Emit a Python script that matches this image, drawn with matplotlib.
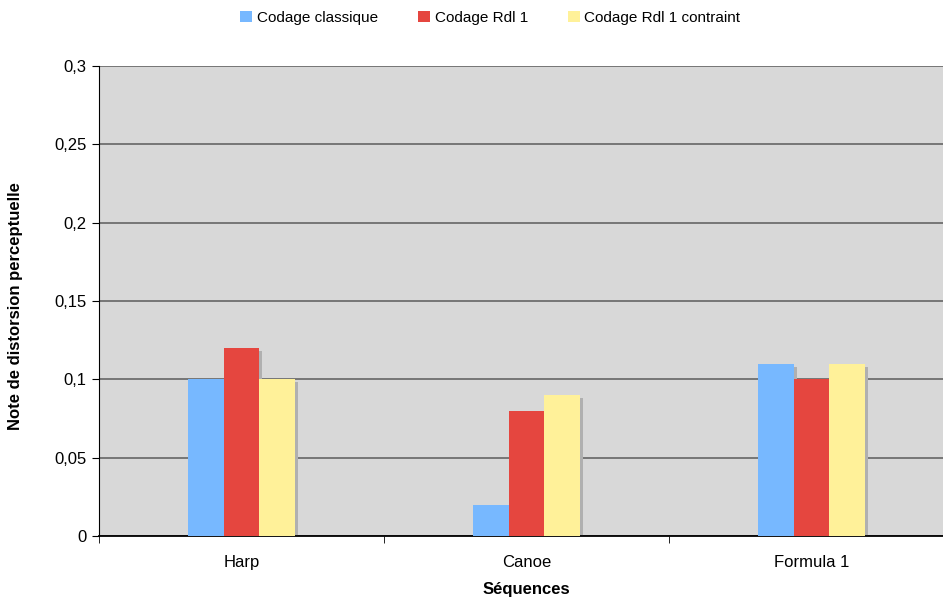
import numpy as np
import matplotlib
matplotlib.use('Agg')
import matplotlib.pyplot as plt
from matplotlib.transforms import offset_copy
from matplotlib.ticker import FuncFormatter

# Data
sequences = ['Harp', 'Canoe', 'Formula 1']
series_names = ['Codage classique', 'Codage Rdl 1', 'Codage Rdl 1 contraint']
classique = [0.10, 0.02, 0.11]
rdl1 = [0.12, 0.08, 0.10]
rdl1_contraint = [0.10, 0.09, 0.11]
colors = ['#77B8FF', '#E5463F', '#FFF199']

plt.rcParams['font.family'] = ['Liberation Sans', 'DejaVu Sans']

fig = plt.figure(figsize=(9.43, 5.98), dpi=100)
# axes run a bit past the right edge of the picture, as in the original
ax = fig.add_axes([0.105, 0.1037, 0.9067, 0.7859])
ax.set_facecolor('#D8D8D8')

x = np.arange(len(sequences))
w = 0.126
series = [classique, rdl1, rdl1_contraint]

# shadows first, offset a few pixels right/down
shadow_tr = offset_copy(ax.transData, fig=fig, x=3, y=-3, units='dots')
for i, vals in enumerate(series):
    ax.bar(x + (i - 1) * w, vals, w, color='#B0B0B0', transform=shadow_tr, zorder=2)
for i, vals in enumerate(series):
    ax.bar(x + (i - 1) * w, vals, w, color=colors[i], label=series_names[i], zorder=3)

ax.set_xlim(-0.5, 2.5)
ax.set_ylim(0, 0.3)
ax.set_yticks(np.arange(0, 0.31, 0.05))
ax.yaxis.set_major_formatter(FuncFormatter(lambda v, p: '0' if v == 0 else f'{v:.2f}'.rstrip('0').replace('.', ',')))
ax.yaxis.grid(True, color='#6E6E6E', linewidth=1.3, zorder=1)
ax.set_axisbelow(True)

ax.set_xticks(x)
ax.set_xticklabels(sequences)
ax.set_xticks([-0.5, 0.5, 1.5, 2.5], minor=True)
ax.tick_params(axis='x', which='major', length=0, pad=14, labelsize=12)
ax.tick_params(axis='x', which='minor', length=5, color='black')
ax.tick_params(axis='y', length=5, labelsize=12, pad=4)

for s in ['top', 'right']:
    ax.spines[s].set_visible(False)
ax.spines['left'].set_color('black')
ax.spines['bottom'].set_color('black')
ax.spines['bottom'].set_linewidth(1.3)

ax.set_xlabel('Séquences', fontsize=12, fontweight='bold', labelpad=8)
ax.set_ylabel('Note de distorsion perceptuelle', fontsize=12, fontweight='bold')
ax.yaxis.set_label_coords(-0.089, 0.49)

fig.legend(loc='upper center', bbox_to_anchor=(0.52, 1.005), ncol=3, frameon=False,
           fontsize=11, handlelength=0.8, handleheight=0.8, columnspacing=2.6, handletextpad=0.3)

fig.savefig('out.png', dpi=100)
